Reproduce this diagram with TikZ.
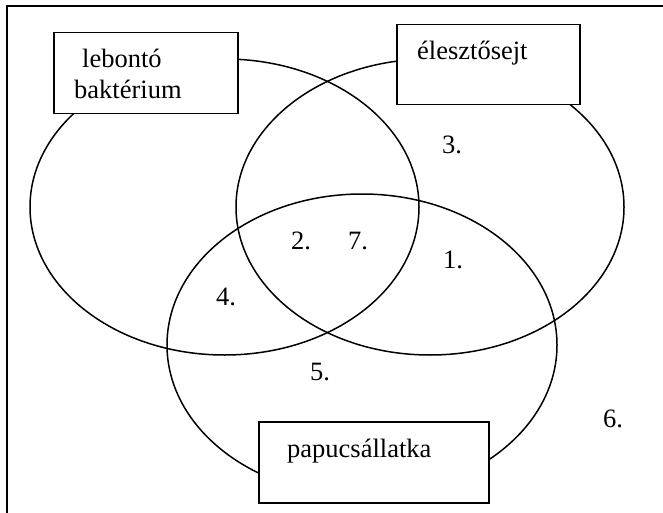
\documentclass[tikz,border=0pt]{standalone}
\usepackage{fontspec}
\setmainfont{Liberation Serif}
\begin{document}
\begin{tikzpicture}[x=1pt,y=-1pt,
    set/.style={line width=1.5pt},
    namebox/.style={draw,line width=1.5pt,fill=white,anchor=north west,inner sep=0pt},
    boxtext/.style={anchor=base west,inner sep=0pt,font=\fontsize{26.5}{31}\selectfont},
    num/.style={font=\fontsize{26.5}{31}\selectfont}]
  \useasboundingbox (0,0) rectangle (663,513);
  % frame
  \draw[line width=1.7pt] (7,513) -- (7,6) -- (663,6);
  % the three sets
  \draw[set] (224.5,207) ellipse [x radius=194.5, y radius=148];
  \draw[set] (430,207) ellipse [x radius=194, y radius=148];
  \draw[set] (362,345) ellipse [x radius=195, y radius=151];
  % names
  \node[namebox,minimum width=184pt,minimum height=81pt] (bakt) at (53,32) {};
  \node[namebox,minimum width=183pt,minimum height=80pt] (elesz) at (396,24) {};
  \node[namebox,minimum width=230pt,minimum height=81pt] (papucs) at (258,421) {};
  \node[boxtext] (bakt1) at (82,68) {lebontó};
  \node[boxtext] (bakt2) at (74,99) {baktérium};
  \node[boxtext] (elesz1) at (417,60) {élesztősejt};
  \node[boxtext] (papucs1) at (287,457) {papucsállatka};
  % regions
  \node[num] (n1) at (453,260) {1.};
  \node[num] (n2) at (301,241) {2.};
  \node[num] (n3) at (452,145) {3.};
  \node[num] (n4) at (226,297) {4.};
  \node[num] (n5) at (320,372) {5.};
  \node[num] (n6) at (613,419) {6.};
  \node[num] (n7) at (358,241) {7.};
\end{tikzpicture}
\end{document}
